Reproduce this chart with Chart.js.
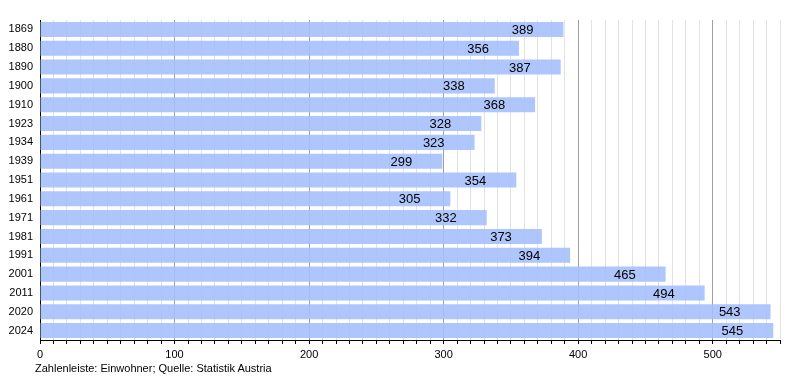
<!DOCTYPE html>
<html>
<head>
<meta charset="utf-8">
<script src="https://cdn.jsdelivr.net/npm/chart.js@4/dist/chart.umd.min.js"></script>
<style>
  body { margin: 0; background: #fff; }
  #wrap { position: relative; width: 800px; height: 380px; }
  #quelle { position: absolute; left: 35px; top: 362px; font: 11px "Liberation Sans", Arial, sans-serif; color: #000; }
</style>
</head>
<body>
<div id="wrap">
  <canvas id="barCanvas" width="800" height="380"></canvas>
  <div id="quelle">Zahlenleiste: Einwohner; Quelle: Statistik Austria</div>
</div>
<script>
// Jahre und Einwohner
const jahre = ["1869","1880","1890","1900","1910","1923","1934","1939","1951","1961","1971","1981","1991","2001","2011","2020","2024"];
const einwohner = [389, 356, 387, 338, 368, 328, 323, 299, 354, 305, 332, 373, 394, 465, 494, 543, 545];
const xMax = 550;

// Werte in die Balken schreiben
const wertePlugin = {
    id: "werte",
    afterDatasetsDraw(chart) {
        const ctx = chart.ctx;
        const meta = chart.getDatasetMeta(0);
        ctx.save();
        ctx.font = "13px 'Liberation Sans', Arial, sans-serif";
        ctx.fillStyle = "#000";
        ctx.textAlign = "right";
        ctx.textBaseline = "middle";
        meta.data.forEach((bar, i) => {
            ctx.fillText(String(einwohner[i]), bar.x - 30, bar.y + 1);
        });
        ctx.restore();
    }
};

const barCanvas = document.getElementById("barCanvas");
const barChart = new Chart(barCanvas, {
    type: "bar",
    data: {
        labels: jahre,
        datasets: [{
            data: einwohner,
            backgroundColor: "rgba(165,192,252,0.9)",
            borderWidth: 0,
            barPercentage: 0.8,
            categoryPercentage: 1
        }]
    },
    options: {
        indexAxis: "y",
        responsive: false,
        animation: false,
        layout: { padding: { top: 20, right: 20, bottom: 15, left: 0 } },
        plugins: {
            legend: { display: false },
            tooltip: { enabled: false }
        },
        scales: {
            x: {
                min: 0,
                max: xMax,
                afterFit(scale) { scale.height = 25; },
                ticks: {
                    stepSize: 10,
                    autoSkip: false,
                    maxRotation: 0,
                    padding: 4,
                    color: "#000",
                    font: { size: 11, family: "'Liberation Sans', Arial, sans-serif" },
                    callback: (v) => (v % 100 === 0 ? v : "")
                },
                grid: {
                    color: (c) => (c.tick && c.tick.value % 100 === 0 ? "#a0a0a0" : "#e2e2e2"),
                    tickColor: "#000",
                    tickLength: 4
                },
                border: { display: true, color: "#000", width: 1 }
            },
            y: {
                afterFit(scale) { scale.width = 40; },
                ticks: {
                    color: "#000",
                    padding: 7,
                    font: { size: 11, family: "'Liberation Sans', Arial, sans-serif" }
                },
                grid: { drawOnChartArea: false, drawTicks: false },
                border: { display: true, color: "#000", width: 1 }
            }
        }
    },
    plugins: [wertePlugin]
});
</script>
</body>
</html>
